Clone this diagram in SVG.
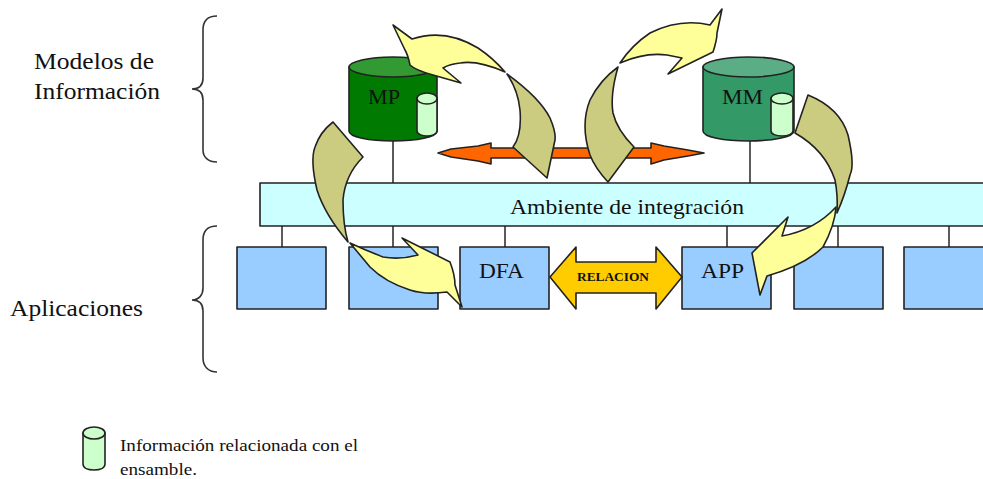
<svg xmlns="http://www.w3.org/2000/svg" width="983" height="479" viewBox="0 0 983 479">
<style>
text{font-family:"Liberation Serif","Times New Roman",serif;fill:#111}
.s{stroke:#222;stroke-width:1.6;stroke-linejoin:round}
.l{fill:none;stroke:#333;stroke-width:1.6}
.box{fill:#99ccff}
.y{fill:#ffff99}
.k{fill:#cccc80}
.c{fill:#ccffcc}
.big{font-size:23px}
.mid{font-size:22px}
.sm{font-size:17px}
</style>
<rect width="983" height="479" fill="#fff"/>
<g id="connectors">
<path class="l" d="M393 141V183M750 141V183M282 226V247M393 226V247M505 226V247M727 226V247M838 226V247M949 226V247"/>
</g>
<g id="brace-modelos"><path class="l" d="M217 16C208 16 203 21 203 30V78C203 85 199 89 192 89C199 89 203 93 203 100V150C203 157 208 162 217 162"/></g>
<g id="brace-aplicaciones"><path class="l" d="M217 226C208 226 203 231 203 240V288C203 295 199 300 192 300C199 300 203 304 203 311V358C203 366 208 372 217 372"/></g>
<g id="label-modelos"><text class="big" x="34" y="69" textLength="120" lengthAdjust="spacingAndGlyphs">Modelos de</text><text class="big" x="34" y="99" textLength="126" lengthAdjust="spacingAndGlyphs">Información</text></g>
<g id="label-aplicaciones"><text class="big" x="10" y="316" textLength="133" lengthAdjust="spacingAndGlyphs">Aplicaciones</text></g>
<g id="mp">
<path class="s" fill="#007a00" d="M349 67V131C349 137 369 141 393 141S437 137 437 131V67Z"/>
<ellipse class="s" cx="393" cy="67" rx="44" ry="10" fill="#339933"/>
<text class="mid" x="368" y="104" textLength="32" lengthAdjust="spacingAndGlyphs">MP</text>
<path class="s c" d="M417 98V131C417 134 422 136 427 136S437 134 437 131V98Z"/>
<ellipse class="s c" cx="427" cy="98.500" rx="10" ry="5.500"/>
</g>
<g id="mm">
<path class="s" fill="#339966" d="M703 67V131C703 137 724 141 748 141S794 137 794 131V67Z"/>
<ellipse class="s" cx="748.500" cy="67" rx="45.500" ry="10" fill="#5aad85"/>
<text class="mid" x="722" y="104" textLength="41" lengthAdjust="spacingAndGlyphs">MM</text>
<path class="s c" d="M771 98V131C771 134 776 136 782 136S793 134 793 131V98Z"/>
<ellipse class="s c" cx="782" cy="98.500" rx="11" ry="5.500"/>
</g>
<g id="orange-arrow">
<path class="s" fill="#ff6600" d="M438 153L451 149 478 146 491 143 491 148H651V143L664 146 688 150 704 153 688 156 664 160 651 164V158H491V164L478 161 451 157Z"/>
</g>
<g id="ambiente">
<rect class="s" x="260" y="183" width="730" height="43" fill="#ccffff"/>
<text class="mid" x="510" y="214" textLength="234" lengthAdjust="spacingAndGlyphs">Ambiente de integración</text>
</g>
<g id="box1"><rect class="s box" x="237" y="247" width="89" height="62"/></g>
<g id="box2"><rect class="s box" x="349" y="247" width="89" height="62"/></g>
<g id="dfa"><rect class="s box" x="460" y="247" width="89" height="62"/><text class="mid" x="479" y="278" textLength="45" lengthAdjust="spacingAndGlyphs">DFA</text></g>
<g id="app"><rect class="s box" x="682" y="247" width="89" height="62"/><text class="mid" x="701" y="278" textLength="43" lengthAdjust="spacingAndGlyphs">APP</text></g>
<g id="box5"><rect class="s box" x="794" y="247" width="89" height="62"/></g>
<g id="box6"><rect class="s box" x="904" y="247" width="89" height="62"/></g>
<g id="relacion">
<path class="s" fill="#ffcc00" d="M550 277L576 247V262H656V247L682 277 656 309V293H576V309Z"/>
<text x="577" y="281" font-size="12" font-weight="bold" textLength="72" lengthAdjust="spacingAndGlyphs">RELACION</text>
</g>
<g id="arrow-mp-up">
<path class="s y" d="M393 25L412 39Q445 28 478 48 493 58 505 72 478 60 460 63 450 64 443 68L461 83 433 75Q415 70 410 65 408 55 405 50Z"/>
<path class="s k" d="M507 74Q540 98 550 118 556 132 555 140L547 178 513 147Q522 135 520 110 518 90 507 74Z"/>
</g>
<g id="arrow-mm-up">
<path class="s y" d="M722 9L710 25Q680 18 650 33 632 45 620 63 645 52 667 55L682 58 668 74 713 52Q717 40 717 33Z"/>
<path class="s k" d="M618 67Q610 95 613 113 617 130 634 147L608 182Q595 168 590 155 580 125 590 100 600 80 618 67Z"/>
</g>
<g id="arrow-mp-down">
<path class="s k" d="M333 122L363 157Q345 175 343 200 343 225 348 242 325 215 317 190 310 160 315 147 320 132 333 122Z"/>
<path class="s y" d="M350 243Q365 250 383 257 400 260 418 255L402 238 450 262Q455 275 455 285L462 307 447 292Q425 295 410 290 385 282 370 267Z"/>
</g>
<g id="arrow-mm-down">
<path class="s k" d="M808 95Q840 108 848 135 855 165 850 175 845 195 837 213 838 195 835 180 825 150 795 133Z"/>
<path class="s y" d="M836 207Q835 225 823 247 805 265 767 276L760 295 752 253 788 217 782 236Q815 230 836 207Z"/>
</g>
<g id="legend">
<path class="s c" d="M83 433V464C83 468 88 470 94 470S105 468 105 464V433Z"/>
<ellipse class="s c" cx="94" cy="433" rx="11" ry="6"/>
<text class="sm" x="120" y="451" textLength="238" lengthAdjust="spacingAndGlyphs">Información relacionada con el</text>
<text x="120" y="474.500" font-size="16" textLength="77" lengthAdjust="spacingAndGlyphs">ensamble.</text>
</g>
</svg>
